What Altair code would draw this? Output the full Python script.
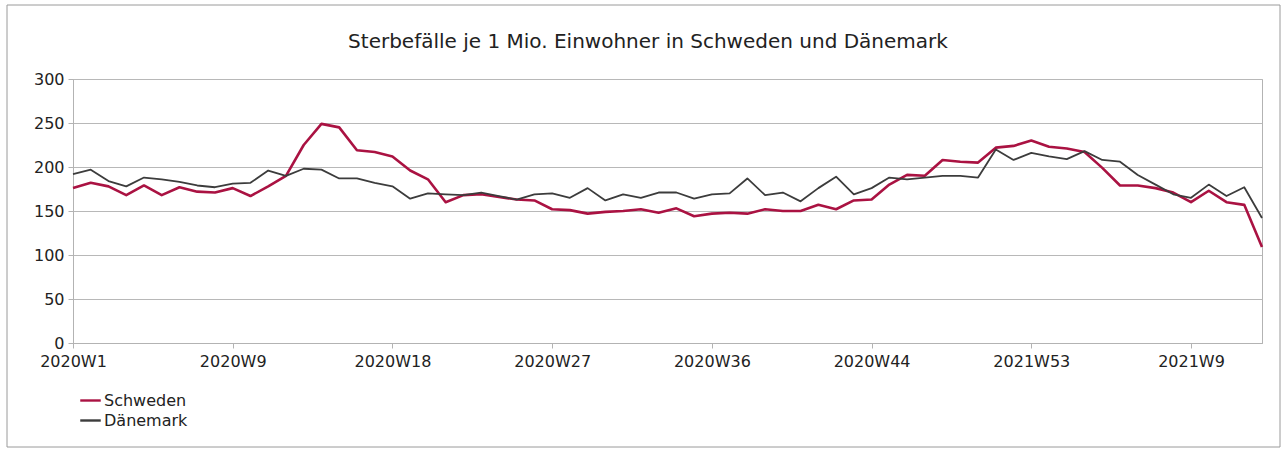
import altair as alt
import pandas as pd

# Weekly deaths per 1 million inhabitants
schweden = [176, 182, 178, 168, 179, 168, 177, 172, 171, 176,
            167, 178, 190, 225, 249, 245, 219, 217, 212, 196,
            186, 160, 168, 169, 166, 163, 162, 152, 151, 147,
            149, 150, 152, 148, 153, 144, 147, 148, 147, 152,
            150, 150, 157, 152, 162, 163, 180, 191, 190, 208,
            206, 205, 222, 224, 230, 223, 221, 217, 199, 179,
            179, 176, 171, 160, 173, 160, 157, 109]
daenemark = [192, 197, 184, 178, 188, 186, 183, 179, 177, 181,
             182, 196, 190, 198, 197, 187, 187, 182, 178, 164,
             170, 169, 168, 171, 167, 163, 169, 170, 165, 176,
             162, 169, 165, 171, 171, 164, 169, 170, 187, 168,
             171, 161, 176, 189, 169, 176, 188, 186, 188, 190,
             190, 188, 220, 208, 216, 212, 209, 218, 208, 206,
             191, 180, 169, 165, 180, 167, 177, 142]

tick_index = [0, 9, 18, 27, 36, 45, 54, 63]
tick_text = ["2020W1", "2020W9", "2020W18", "2020W27",
             "2020W36", "2020W44", "2021W53", "2021W9"]
y_ticks = [0, 50, 100, 150, 200, 250, 300]

title_text = "Sterbefälle je 1 Mio. Einwohner in Schweden und Dänemark"
series_names = ["Schweden", "Dänemark"]
series_colors = ["#aa1242", "#3c3c3c"]
series_widths = [2.6, 1.8]

rows = []
for name, vals in zip(series_names, [schweden, daenemark]):
    for i, v in enumerate(vals):
        rows.append({"idx": i, "Land": name, "wert": v})
df = pd.DataFrame(rows)

FONT = "DejaVu Sans"
label_expr = "[" + ",".join("'%s'" % t for t in tick_text) + "][round(datum.value / 9)]"

x_enc = alt.X(
    "idx:Q",
    scale=alt.Scale(domain=[0, len(schweden) - 1], nice=False, zero=False),
    axis=alt.Axis(values=tick_index, labelExpr=label_expr, title=None, grid=False,
                  domainColor="#b3b3b3", tickColor="#b3b3b3", tickSize=5,
                  labelFont=FONT, labelFontSize=16, labelColor="#222222",
                  labelPadding=5, labelFlush=False, labelOverlap=False),
)
y_enc = alt.Y(
    "wert:Q",
    scale=alt.Scale(domain=[0, 300], nice=False),
    axis=alt.Axis(values=y_ticks, title=None, grid=True, gridColor="#b8b8b8",
                  domainColor="#b3b3b3", tickColor="#b3b3b3", tickSize=5,
                  labelFont=FONT, labelFontSize=16, labelColor="#222222",
                  labelPadding=4),
)
color_enc = alt.Color(
    "Land:N",
    scale=alt.Scale(domain=series_names, range=series_colors),
    legend=alt.Legend(orient="none", legendX=6, legendY=310, title=None,
                      symbolType="stroke", symbolSize=420, symbolStrokeWidth=2.4,
                      labelFont=FONT, labelFontSize=16, labelColor="#222222",
                      labelOffset=2, rowPadding=-1),
)

layers = []
for name, w in zip(series_names, series_widths):
    layers.append(
        alt.Chart(df)
        .transform_filter(alt.datum.Land == name)
        .mark_line(strokeWidth=w, strokeJoin="round")
        .encode(x=x_enc, y=y_enc, color=color_enc)
    )

# outer border of the chart
frame = alt.Chart(pd.DataFrame({"r": [0]})).mark_rect(
    fillOpacity=0, stroke="#9a9a9a", strokeWidth=1
).encode(x=alt.value(-66), x2=alt.value(1207), y=alt.value(-74), y2=alt.value(368))

# chart heading, centred over the whole frame
heading = alt.Chart(pd.DataFrame({"t": [title_text]})).mark_text(
    font=FONT, fontSize=20, color="#222222", align="center", baseline="alphabetic"
).encode(text="t:N", x=alt.value(575), y=alt.value(-31))

chart = (
    alt.layer(frame, *layers, heading)
    .properties(
        width=1189,
        height=264,
        autosize=alt.AutoSizeParams(type="none"),
        padding={"left": 73, "top": 79, "right": 22, "bottom": 106},
        background="white",
    )
    .configure_view(stroke="#b3b3b3")
)

chart.save("out.html", embed_options={"renderer": "svg", "actions": False})
